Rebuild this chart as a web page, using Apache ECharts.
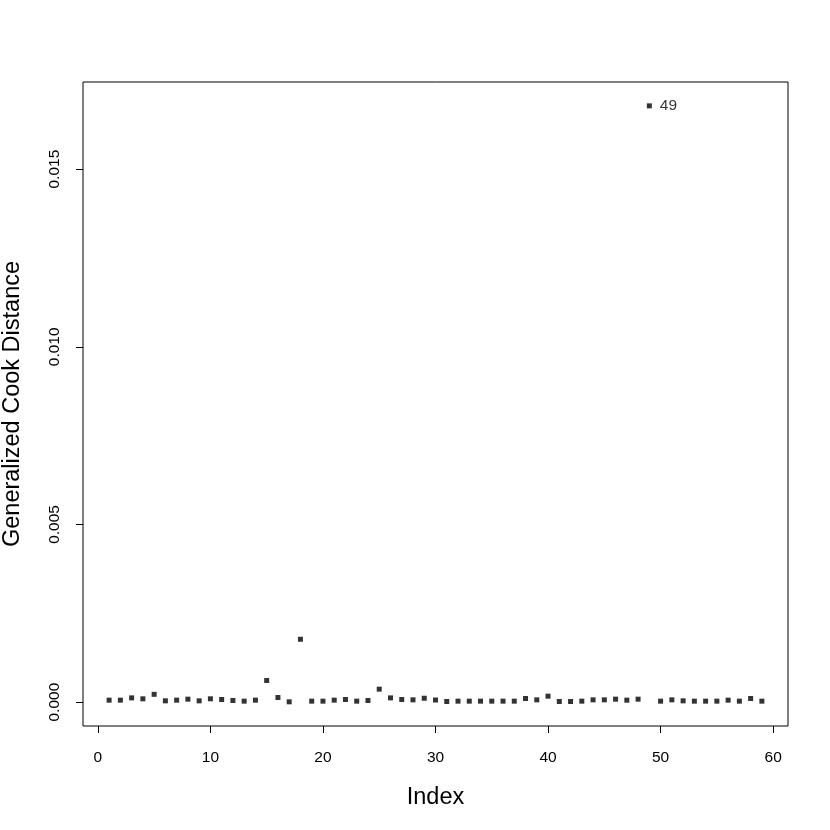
<!DOCTYPE html>
<html>
<head>
<meta charset="utf-8">
<script src="https://cdn.jsdelivr.net/npm/echarts@6/dist/echarts.min.js"></script>
<style>html,body{margin:0;padding:0;background:#fff}#c{width:830px;height:830px}</style>
</head>
<body>
<div id="c"></div>
<script>
const indices = [];
for (let i = 1; i <= 59; i++) indices.push(i);
const cookDistance = [
  5.6e-5, 5.6e-5, 1.2e-4, 9.4e-5, 2.2e-4, 3.7e-5, 5.6e-5, 8.4e-5, 3.7e-5, 9.4e-5,
  7.5e-5, 4.7e-5, 2.8e-5, 5.6e-5, 6.1e-4, 1.3e-4, 9e-6, 1.77e-3, 2.8e-5, 2.8e-5,
  5.6e-5, 7.5e-5, 2.8e-5, 4.7e-5, 3.65e-4, 1.2e-4, 7.5e-5, 6.5e-5, 1.1e-4, 6e-5,
  1.9e-5, 2.8e-5, 2.8e-5, 2.8e-5, 2.8e-5, 2.8e-5, 2.8e-5, 1.03e-4, 6.5e-5, 1.68e-4,
  1.9e-5, 1.9e-5, 2.8e-5, 6.5e-5, 6.5e-5, 8.4e-5, 5.6e-5, 8.4e-5, 0.01678, 2.8e-5,
  6.5e-5, 3.7e-5, 2.8e-5, 2.8e-5, 2.8e-5, 5.6e-5, 2.8e-5, 1.03e-4, 2.8e-5
];
const labelledPoints = [49];
const xTicks = [0, 10, 20, 30, 40, 50, 60];
const yTicks = [0, 0.005, 0.010, 0.015];
const xTitle = 'Index';
const yTitle = 'Generalized Cook Distance';

const xMin = 1 - 0.04 * 58, xMax = 59 + 0.04 * 58;
const yDataMax = Math.max(...cookDistance), yDataMin = 0;
const yPad = 0.04 * (yDataMax - yDataMin);

const font = 'Liberation Sans, Arial, sans-serif';
const data = indices.map((x, i) => {
  const item = { value: [x, cookDistance[i]] };
  if (labelledPoints.includes(x)) {
    item.label = { show: true, position: 'right', formatter: String(x), distance: 8,
      color: '#000', fontSize: 15.5, fontFamily: font };
  }
  return item;
});

const chart = echarts.init(document.getElementById('c'), null, { renderer: 'canvas' });
chart.setOption({
  animation: false,
  backgroundColor: '#fff',
  grid: { left: 83, right: 42, top: 82, bottom: 104, show: true, borderColor: '#000', borderWidth: 1,
    backgroundColor: 'transparent', containLabel: false, outerBoundsMode: 'none' },
  xAxis: {
    type: 'value', min: xMin, max: xMax,
    name: xTitle, nameLocation: 'middle', nameGap: 60,
    nameTextStyle: { fontSize: 23.5, fontFamily: font, color: '#000' },
    axisLine: { show: false, onZero: false },
    splitLine: { show: false },
    axisTick: { show: true, length: 7, customValues: xTicks, lineStyle: { color: '#000' } },
    axisLabel: { customValues: xTicks, margin: 24, fontSize: 15.5, fontFamily: font, color: '#000',
      formatter: v => String(v) }
  },
  yAxis: {
    type: 'value', min: yDataMin - yPad, max: yDataMax + yPad,
    name: yTitle, nameLocation: 'middle', nameGap: 58,
    nameTextStyle: { fontSize: 23.5, fontFamily: font, color: '#000' },
    axisLine: { show: false, onZero: false },
    splitLine: { show: false },
    axisTick: { show: true, length: 7, customValues: yTicks, lineStyle: { color: '#000' } },
    axisLabel: { customValues: yTicks, rotate: 90, margin: 20, fontSize: 15.5, fontFamily: font, color: '#000',
      formatter: v => v.toFixed(3) }
  },
  series: [{
    type: 'scatter',
    symbol: 'rect',
    symbolSize: 5,
    itemStyle: { color: '#000' },
    data: data
  }]
});
</script>
</body>
</html>
